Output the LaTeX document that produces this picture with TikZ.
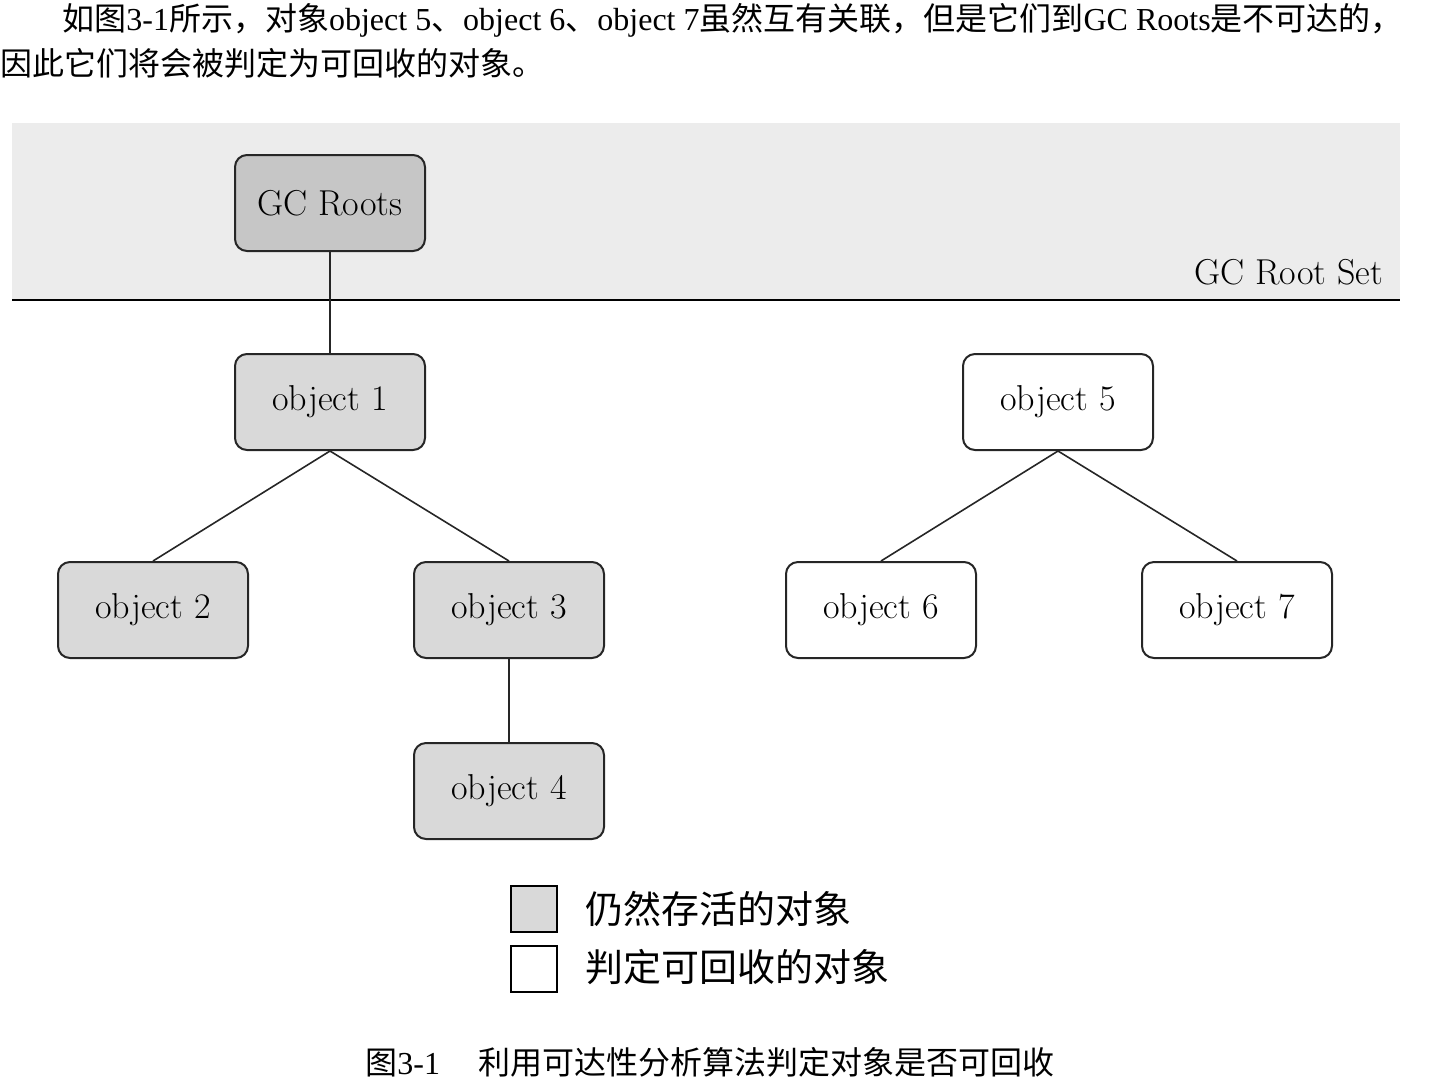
\documentclass[tikz,border=0pt]{standalone}
\usepackage{fontspec}
\newfontfamily\cjk{Noto Sans CJK SC}
\newfontfamily\tms{Liberation Serif}
\begin{document}
\begin{tikzpicture}[x=0.5pt,y=-0.5pt,
  obj/.style={draw=black!85,line width=1pt,rounded corners=6pt,minimum width=95pt,minimum height=48pt,font=\fontsize{18}{20}\selectfont,inner sep=0pt},
  live/.style={obj,fill=gray!30},
  dead/.style={obj,fill=white},
  edge/.style={line width=0.8pt,black!85}]
\useasboundingbox (0,0) rectangle (1446,1089);
\fill[gray!15] (12,123) rectangle (1400,300);
\draw[line width=1pt] (12,300) -- (1400,300);
\node[anchor=east,font=\fontsize{18}{20}\selectfont] (setlbl) at (1390,272) {GC Root Set};
\node[live,fill=gray!45] (gc) at (330,203) {GC Roots};
\node[live] (o1) at (330,402) {object 1};
\node[live] (o2) at (153,610) {object 2};
\node[live] (o3) at (509,610) {object 3};
\node[live] (o4) at (509,791) {object 4};
\node[dead] (o5) at (1058,402) {object 5};
\node[dead] (o6) at (881,610) {object 6};
\node[dead] (o7) at (1237,610) {object 7};
\draw[edge] (gc) -- (o1);
\draw[edge] (o1.south) -- (o2.north);
\draw[edge] (o1.south) -- (o3.north);
\draw[edge] (o3) -- (o4);
\draw[edge] (o5.south) -- (o6.north);
\draw[edge] (o5.south) -- (o7.north);
\node[draw,line width=0.8pt,fill=gray!30,minimum size=23pt,inner sep=0pt] (lg1) at (534,909) {};
\node[draw,line width=0.8pt,fill=white,minimum size=23pt,inner sep=0pt] (lg2) at (534,969) {};
\node[anchor=west,inner sep=0pt,font=\cjk\fontsize{19}{20}\selectfont] (t1) at (585,909) {仍然存活的对象};
\node[anchor=west,inner sep=0pt,font=\cjk\fontsize{19}{20}\selectfont] (t2) at (585,967) {判定可回收的对象};
\node[anchor=west,inner sep=0pt,font=\tms\fontsize{16}{18}\selectfont] (p1) at (62,20) {{\cjk 如图}3-1{\cjk 所示，对象}object 5{\cjk 、}object 6{\cjk 、}object 7{\cjk 虽然互有关联，但是它们到}GC Roots{\cjk 是不可达的，}};
\node[anchor=west,inner sep=0pt,font=\cjk\fontsize{16}{18}\selectfont] (p2) at (0,63) {因此它们将会被判定为可回收的对象。};
\node[inner sep=0pt,font=\tms\fontsize{16}{18}\selectfont] (cap) at (710,1062) {{\cjk 图}3-1\hspace{1.2em}{\cjk 利用可达性分析算法判定对象是否可回收}};
\end{tikzpicture}
\end{document}
